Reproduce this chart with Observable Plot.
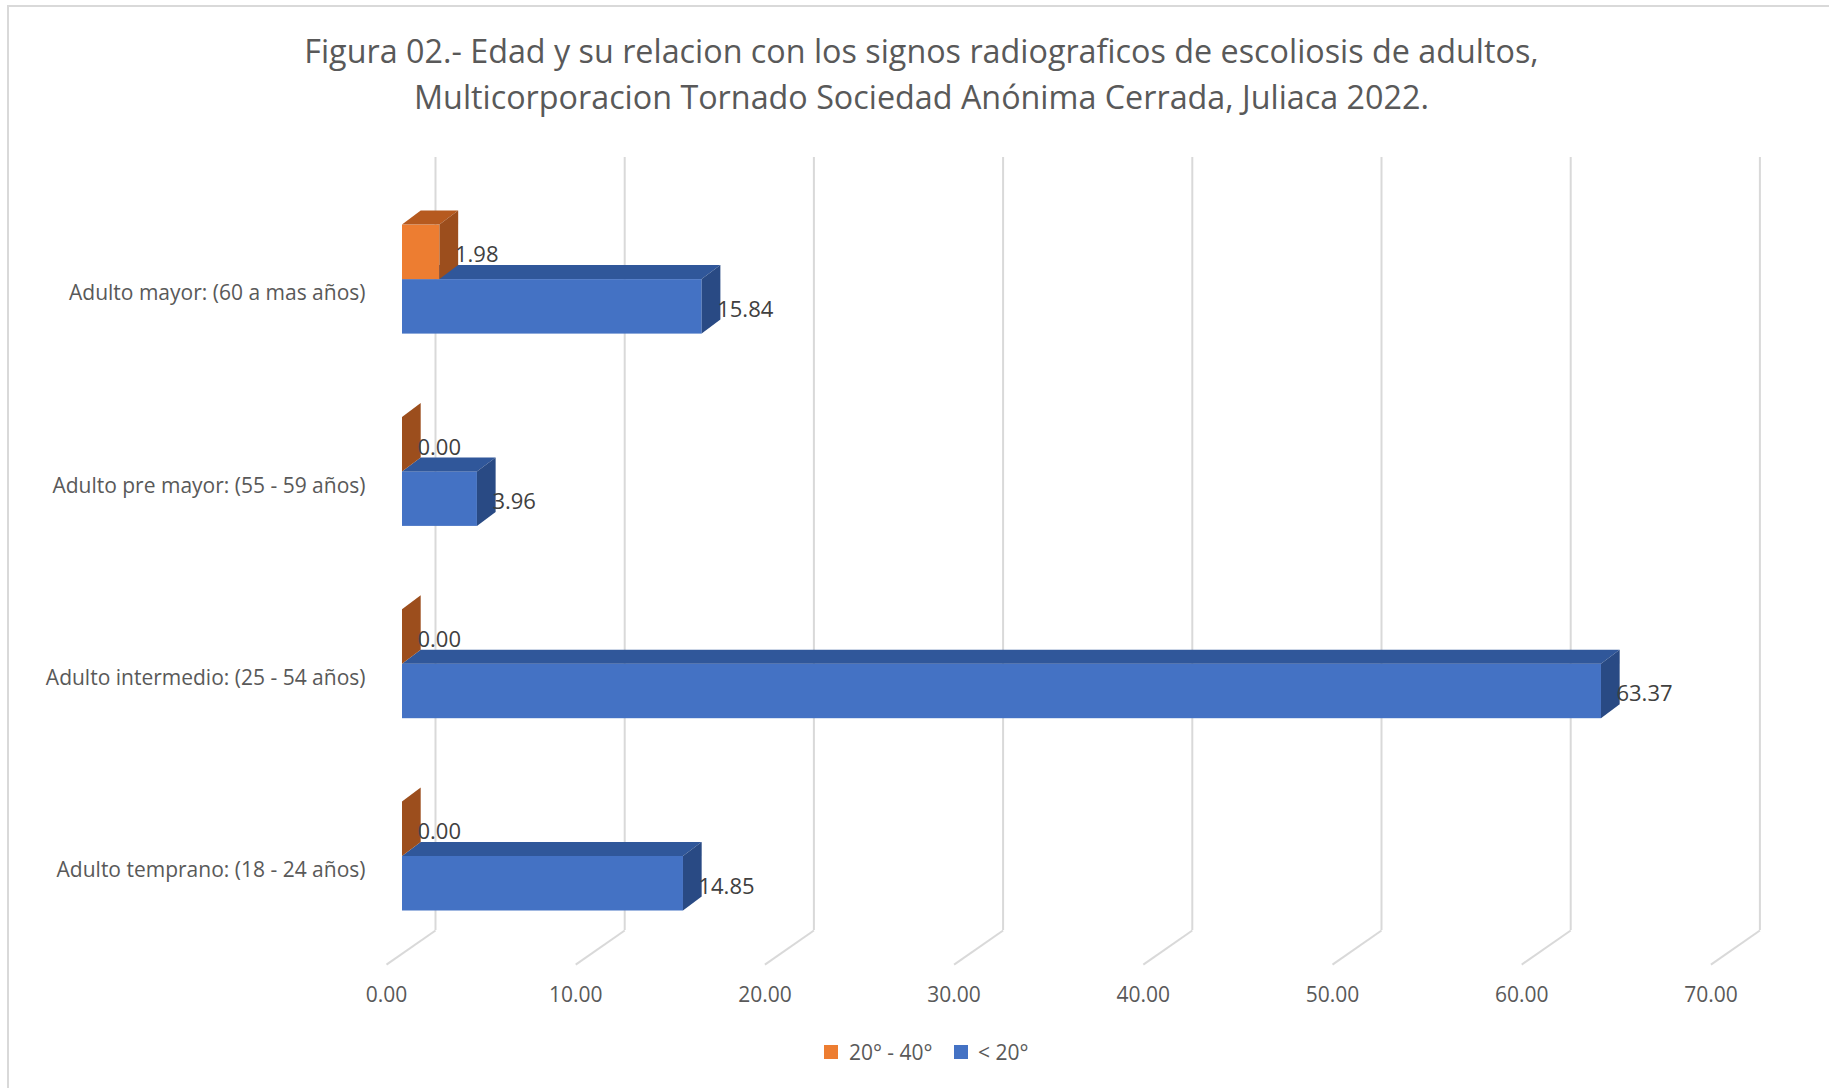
<!DOCTYPE html>
<html><head><meta charset="utf-8">
<script src="https://cdn.jsdelivr.net/npm/d3@7"></script>
<script src="https://cdn.jsdelivr.net/npm/@observablehq/plot@0.6"></script>
<style>
body{margin:0;background:#fff;font-family:"Open Sans",sans-serif;width:1829px;height:1088px;overflow:hidden;position:relative}
#frame{position:absolute;left:7px;top:5px;width:2000px;height:2000px;border-left:2px solid #d9d9d9;border-top:2px solid #d9d9d9}
#title{position:absolute;left:0;width:1843px;top:27px;text-align:center;font-size:32.3px;line-height:46px;color:#595959;white-space:nowrap}
#chart{position:absolute;left:0;top:130px}
#legend{position:absolute;left:0;width:1874px;top:1035px;display:flex;justify-content:center}
</style></head><body>
<div id="frame"></div>
<div id="title">Figura 02.- Edad y su relacion con los signos radiograficos de escoliosis de adultos,<br>Multicorporacion Tornado Sociedad Anónima Cerrada, Juliaca 2022.</div>
<div id="chart"></div>
<div id="legend"></div>
<script>
// ---- data ----
const categories = ["Adulto temprano: (18 - 24 años)", "Adulto intermedio: (25 - 54 años)", "Adulto pre mayor: (55 - 59 años)", "Adulto mayor: (60 a mas años)"];
const seriesNames = ["20° - 40°", "< 20°"];
const valuesHigh = [0.00, 0.00, 0.00, 1.98];      // 20° - 40°
const valuesLow = [14.85, 63.37, 3.96, 15.84];     // < 20°
const xTicks = [0, 10, 20, 30, 40, 50, 60, 70];

// ---- style / geometry ----
const frontColors = {"20° - 40°": "#ED7D31", "< 20°": "#4472C4"};
const topColors = {"20° - 40°": "#B65A1F", "< 20°": "#30579A"};
const sideColors = {"20° - 40°": "#9C4E1D", "< 20°": "#294A84"};
const W = 1829, H = 900, ML = 402, MR = 102.6;
const yRange = [726, 149.1];
const xk = (W - ML - MR) / 70;            // px per x unit
const yk = (yRange[0] - yRange[1]) / 3;   // px per category step
const BAR = 54.5 / yk;                    // bar thickness in step units
const ddx = 18.7 / xk, ddy = 14 / yk;     // bar depth
const wallDx = 33 / xk, frontDx = -16 / xk;
const wallTop = 3.635, wallBottom = -0.385, floorFront = -0.562;

// ---- build bar table ----
const bars = [];
categories.forEach((c, i) => {
  bars.push({cat: c, series: "< 20°", v: valuesLow[i], lo: i - BAR, hi: i});
  bars.push({cat: c, series: "20° - 40°", v: valuesHigh[i], lo: i, hi: i + BAR});
});
bars.forEach((b, k) => b.id = k);
const sidePts = bars.flatMap(b => [
  {id: b.id, series: b.series, x: b.v, y1: b.lo, y2: b.hi},
  {id: b.id, series: b.series, x: b.v + ddx, y1: b.lo + ddy, y2: b.hi + ddy}
]);
const topPts = bars.flatMap(b => [
  {id: b.id, series: b.series, y: b.hi, x1: 0, x2: b.v},
  {id: b.id, series: b.series, y: b.hi + ddy, x1: ddx, x2: b.v + ddx}
]);

const marks = [
  Plot.ruleX(xTicks, {x: d => d + wallDx, y1: wallBottom, y2: wallTop, stroke: "#d9d9d9", strokeWidth: 2}),
  Plot.link(xTicks, {x1: d => d + wallDx, y1: wallBottom, x2: d => d + frontDx, y2: floorFront, stroke: "#d9d9d9", strokeWidth: 2}),
  Plot.text(xTicks, {x: d => d + frontDx, y: floorFront, dy: 31, text: d => d.toFixed(2), fill: "#595959", fontSize: 21})
];
for (const s of ["< 20°", "20° - 40°"]) {
  marks.push(
    Plot.rect(bars.filter(b => b.series === s), {x1: 0, x2: "v", y1: "lo", y2: "hi", fill: frontColors[s]}),
    Plot.areaX(topPts.filter(p => p.series === s), {y: "y", x1: "x1", x2: "x2", z: "id", fill: topColors[s]}),
    Plot.areaY(sidePts.filter(p => p.series === s), {x: "x", y1: "y1", y2: "y2", z: "id", fill: sideColors[s]})
  );
}
marks.push(
  Plot.text(bars, {x: "v", y: b => (b.lo + b.hi) / 2, dx: 15, dy: 3, text: b => b.v.toFixed(2), textAnchor: "start", fill: "#404040", fontSize: 22}),
  Plot.text(categories, {x: 0, y: (d, i) => i, dx: -37, dy: 14, text: d => d, textAnchor: "end", fill: "#595959", fontSize: 21})
);

const chart = Plot.plot({
  width: W, height: H,
  marginLeft: ML, marginRight: MR, marginTop: 0, marginBottom: 0,
  x: {domain: [0, 70], axis: null},
  y: {domain: [0, 3], range: yRange, axis: null},
  style: {fontFamily: "'Open Sans', sans-serif", background: "transparent", overflow: "visible"},
  marks
});
document.getElementById("chart").appendChild(chart);

const leg = Plot.legend({
  color: {type: "ordinal", domain: seriesNames, range: seriesNames.map(s => frontColors[s])},
  legend: "swatches", swatchSize: 14,
  style: {fontSize: "21px", color: "#595959", fontFamily: "'Open Sans', sans-serif"}
});
document.getElementById("legend").appendChild(leg);
</script>
</body></html>
